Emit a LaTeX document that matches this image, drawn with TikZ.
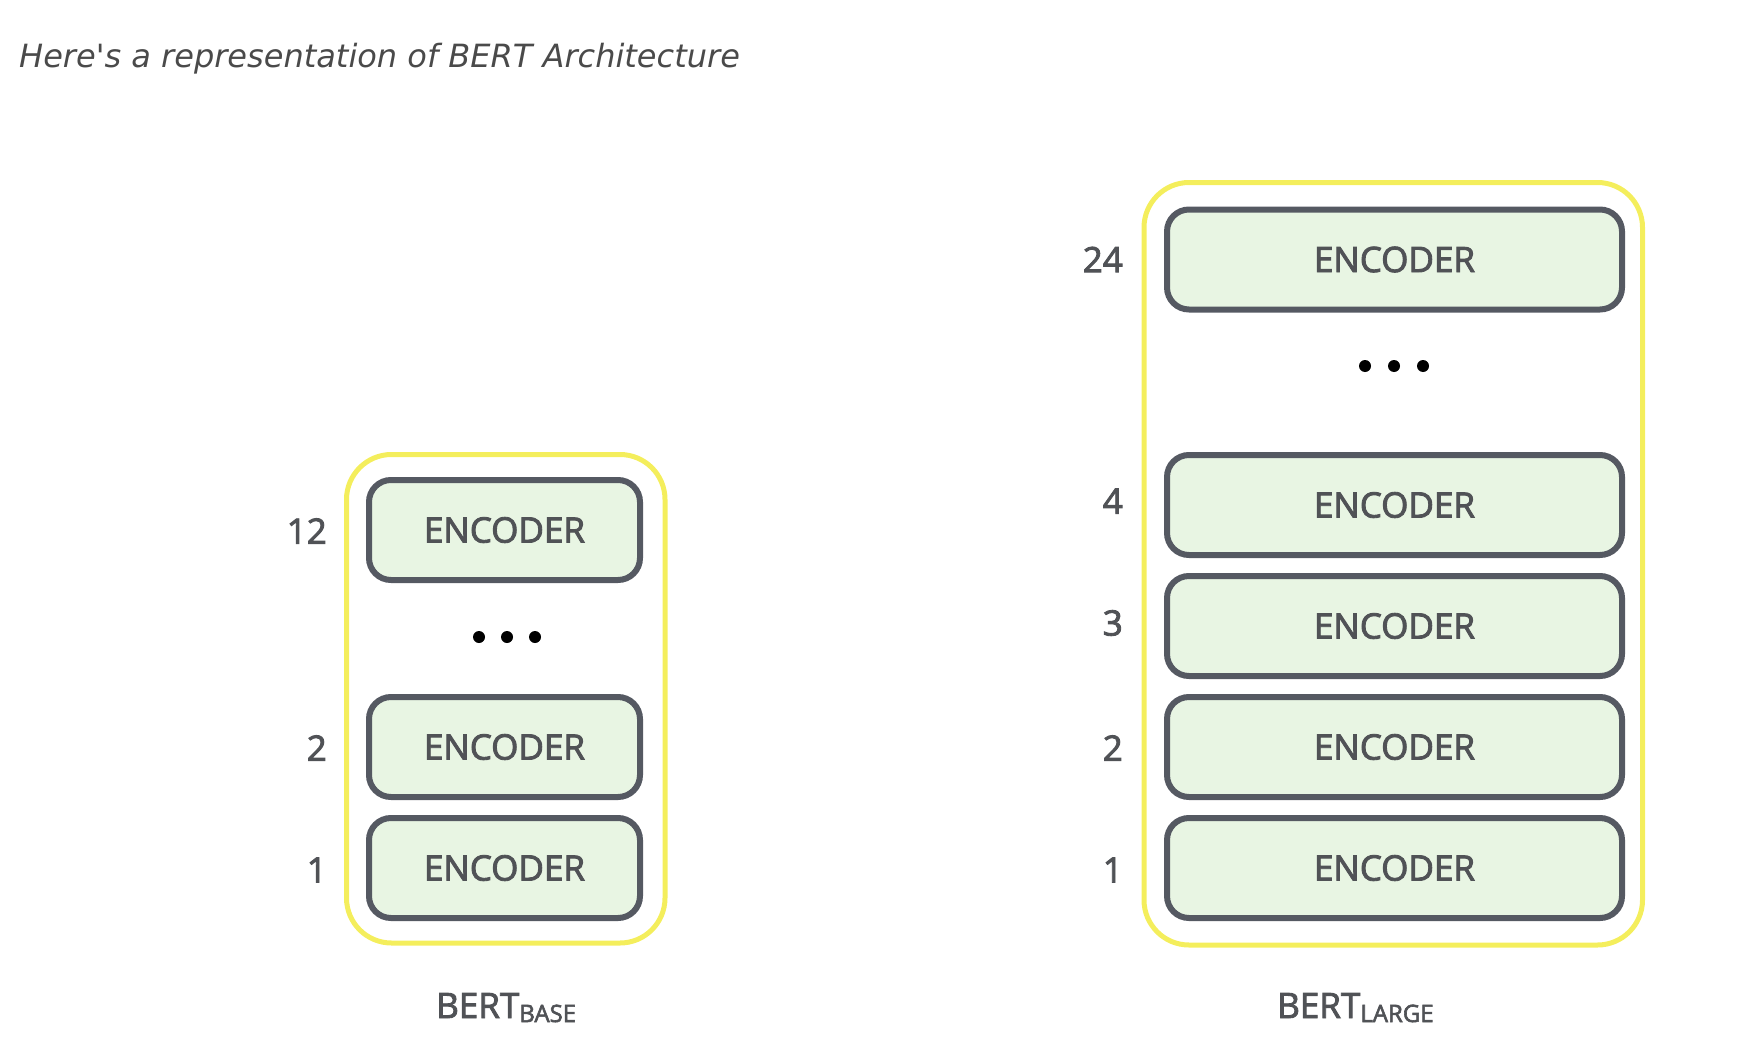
\documentclass[tikz,border=0pt]{standalone}
\usepackage{fontspec}
\setmainfont{Open Sans}
\newfontfamily\titlefont{DejaVu Sans}
\newfontfamily\semibold[FakeBold=2.5]{Open Sans}
\definecolor{encfill}{HTML}{E8F5E3}
\definecolor{encdraw}{HTML}{555962}
\definecolor{frameyellow}{HTML}{F4EE5C}
\definecolor{txtgray}{HTML}{505256}
\definecolor{titlegray}{HTML}{4A4A4A}
\tikzset{
  encbox/.style={draw=encdraw, fill=encfill, line width=6pt, rounded corners=22pt,
    inner sep=0pt, text=txtgray, font=\semibold\fontsize{35}{40}\selectfont},
  framebox/.style={draw=frameyellow, line width=5pt, rounded corners=45pt, inner sep=0pt},
  numlab/.style={anchor=east, inner sep=0pt, text=txtgray, font=\semibold\fontsize{35}{40}\selectfont},
  dotmark/.style={circle, fill=black, inner sep=0pt, minimum size=12pt},
  bertlab/.style={anchor=base west, inner sep=0pt, text=txtgray, font=\semibold\fontsize{35}{40}\selectfont}
}
\begin{document}
\begin{tikzpicture}[x=1pt,y=-1pt]
\useasboundingbox (0,0) rectangle (1748,1060);
% title
\node[anchor=base west, inner sep=0pt, text=titlegray, font=\titlefont\itshape\fontsize{32}{36}\selectfont] (title) at (19,67) {Here's a representation of BERT Architecture};
% BERT base
\node[framebox, minimum width=318.5pt, minimum height=488.5pt] (baseframe) at (505.75,698.75) {};
\node[encbox, minimum width=271pt, minimum height=100pt] (b12) at (504.5,530) {ENCODER};
\node[encbox, minimum width=271pt, minimum height=100pt] (b2) at (504.5,747) {ENCODER};
\node[encbox, minimum width=271pt, minimum height=100pt] (b1) at (504.5,868) {ENCODER};
\node[dotmark] (bd1) at (479,637) {};
\node[dotmark] (bd2) at (507,637) {};
\node[dotmark] (bd3) at (535,637) {};
\node[numlab] (nb12) at (327,531) {12};
\node[numlab] (nb2) at (327,748) {2};
\node[numlab] (nb1) at (327,870) {1};
\node[bertlab] (baselab) at (436,1018) {BERT\raisebox{-4pt}{\fontsize{24}{24}\selectfont BASE}};
% BERT large
\node[framebox, minimum width=498.5pt, minimum height=762.5pt] (largeframe) at (1393.25,563.75) {};
\node[encbox, minimum width=455pt, minimum height=100pt] (l24) at (1394.5,259.5) {ENCODER};
\node[encbox, minimum width=455pt, minimum height=100pt] (l4) at (1394.5,505) {ENCODER};
\node[encbox, minimum width=455pt, minimum height=100pt] (l3) at (1394.5,626) {ENCODER};
\node[encbox, minimum width=455pt, minimum height=100pt] (l2) at (1394.5,747) {ENCODER};
\node[encbox, minimum width=455pt, minimum height=100pt] (l1) at (1394.5,868) {ENCODER};
\node[dotmark] (ld1) at (1365,366) {};
\node[dotmark] (ld2) at (1394,366) {};
\node[dotmark] (ld3) at (1423,366) {};
\node[numlab] (nl24) at (1123,259.5) {24};
\node[numlab] (nl4) at (1123,501) {4};
\node[numlab] (nl3) at (1123,623) {3};
\node[numlab] (nl2) at (1123,748) {2};
\node[numlab] (nl1) at (1123,870) {1};
\node[bertlab] (largelab) at (1277,1018) {BERT\raisebox{-4pt}{\fontsize{24}{24}\selectfont LARGE}};
\end{tikzpicture}
\end{document}
